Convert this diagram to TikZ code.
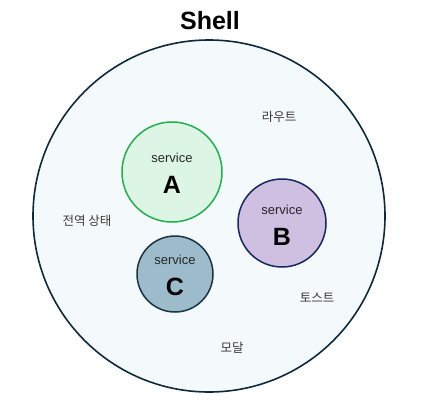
\documentclass[tikz,border=0pt]{standalone}
\usepackage{fontspec}
\setmainfont{Liberation Sans}
\newfontfamily\krfont{Noto Sans CJK KR}
\definecolor{shellfill}{HTML}{F4F9FC}
\definecolor{shelldraw}{HTML}{0E2A3C}
\definecolor{afill}{HTML}{DCF5E5}
\definecolor{adraw}{HTML}{22B04E}
\definecolor{bfill}{HTML}{CFC0E1}
\definecolor{bdraw}{HTML}{17275F}
\definecolor{cfill}{HTML}{9DBCCB}
\definecolor{cdraw}{HTML}{1C3342}
\definecolor{lblgray}{HTML}{3A3A3A}
\begin{document}
\begin{tikzpicture}[x=1pt,y=1pt,
  svc/.style={circle,inner sep=0pt,line width=1.5pt},
  svctext/.style={font=\fontsize{13}{15}\selectfont,text=black!85},
  svcletter/.style={font=\bfseries\fontsize{25}{26}\selectfont,text=black},
  kr/.style={font=\krfont\fontsize{12.5}{14}\selectfont,text=lblgray}]
\useasboundingbox (0,0) rectangle (423,400);
\node[circle,minimum size=352pt,inner sep=0pt,fill=shellfill,draw=shelldraw,line width=1.6pt] (shell) at (209,184) {};
\node[font=\bfseries\fontsize{25}{27}\selectfont] (title) at (210,379) {Shell};
\node[svc,minimum size=100pt,fill=afill,draw=adraw] (A) at (172,228) {};
\node[svc,minimum size=88pt,fill=bfill,draw=bdraw] (B) at (282,177) {};
\node[svc,minimum size=76pt,fill=cfill,draw=cdraw] (C) at (175,126) {};
\node[svctext] (As) at ([yshift=14pt]A.center) {service};
\node[svcletter] (Al) at ([yshift=-13pt]A.center) {A};
\node[svctext] (Bs) at ([yshift=13pt]B.center) {service};
\node[svcletter] (Bl) at ([yshift=-14pt]B.center) {B};
\node[svctext] (Cs) at ([yshift=14pt]C.center) {service};
\node[svcletter] (Cl) at ([yshift=-13pt]C.center) {C};
\node[kr] (route) at (279,283) {라우트};
\node[kr] (global) at (87,179) {전역 상태};
\node[kr] (toast) at (317,102) {토스트};
\node[kr] (modal) at (232,52) {모달};
\end{tikzpicture}
\end{document}
